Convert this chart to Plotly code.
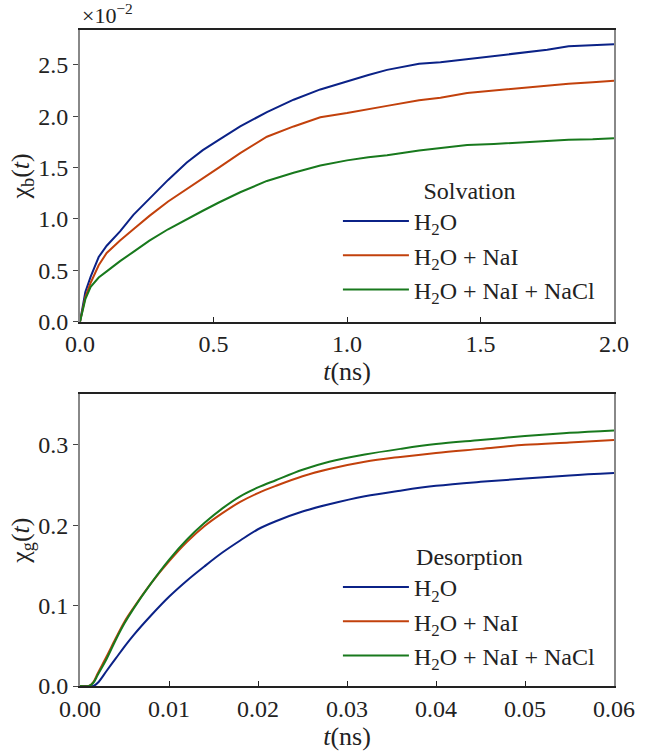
import plotly.graph_objects as go

# ---------------- data ----------------
series_names = ["H<sub>2</sub>O", "H<sub>2</sub>O + NaI", "H<sub>2</sub>O + NaI + NaCl"]
colors = ["#0b2287", "#c2410c", "#18791d"]

# Top panel: solvation, chi_b(t) in units of 1e-2
t_solv = [0, 0.02, 0.04, 0.07, 0.1, 0.15, 0.2, 0.26, 0.33, 0.4, 0.46, 0.52, 0.6, 0.7, 0.8, 0.9,
          1.0, 1.08, 1.15, 1.27, 1.35, 1.45, 1.55, 1.65, 1.75, 1.83, 1.92, 2.0]
solv_h2o = [0, 0.29, 0.44, 0.63, 0.74, 0.88, 1.04, 1.20, 1.38, 1.55, 1.67, 1.77, 1.90, 2.04, 2.16, 2.26,
            2.34, 2.40, 2.45, 2.51, 2.525, 2.555, 2.58, 2.615, 2.645, 2.68, 2.69, 2.70]
solv_nai = [0, 0.24, 0.38, 0.55, 0.67, 0.79, 0.90, 1.03, 1.17, 1.29, 1.39, 1.50, 1.64, 1.80, 1.90, 1.99,
            2.03, 2.07, 2.10, 2.155, 2.18, 2.225, 2.25, 2.275, 2.30, 2.315, 2.33, 2.345]
solv_nacl = [0, 0.22, 0.34, 0.43, 0.49, 0.59, 0.68, 0.79, 0.90, 1.00, 1.08, 1.16, 1.26, 1.37, 1.45, 1.52,
             1.57, 1.60, 1.62, 1.665, 1.69, 1.72, 1.73, 1.745, 1.755, 1.77, 1.775, 1.785]

# Bottom panel: desorption, chi_g(t)
t_des = [0, 0.001, 0.0015, 0.002, 0.003, 0.004, 0.005, 0.006, 0.008, 0.010, 0.012, 0.014, 0.016,
         0.018, 0.020, 0.022, 0.025, 0.028, 0.032, 0.036, 0.040, 0.045, 0.050, 0.055, 0.060]
des_h2o = [0, 0, 0, 0.004, 0.019, 0.034, 0.049, 0.063, 0.088, 0.111, 0.131, 0.149, 0.166,
           0.181, 0.195, 0.205, 0.217, 0.226, 0.236, 0.243, 0.249, 0.254, 0.258, 0.262, 0.265]
des_nai = [0, 0, 0.005, 0.016, 0.037, 0.059, 0.080, 0.097, 0.128, 0.155, 0.179, 0.199, 0.215,
           0.229, 0.240, 0.249, 0.261, 0.270, 0.279, 0.285, 0.290, 0.295, 0.300, 0.303, 0.306]
des_nacl = [0, 0, 0.004, 0.014, 0.034, 0.057, 0.078, 0.096, 0.128, 0.157, 0.182, 0.203, 0.221,
            0.236, 0.247, 0.256, 0.269, 0.279, 0.288, 0.295, 0.301, 0.306, 0.311, 0.315, 0.318]

top_xticks = [0.0, 0.5, 1.0, 1.5, 2.0]
top_yticks = [0.0, 0.5, 1.0, 1.5, 2.0, 2.5]
bot_xticks = [0.00, 0.01, 0.02, 0.03, 0.04, 0.05, 0.06]
bot_yticks = [0.0, 0.1, 0.2, 0.3]

# ---------------- figure ----------------
FONT = "Liberation Serif, Times New Roman, serif"
fig = go.Figure()

for name, ys, c in zip(series_names, [solv_h2o, solv_nai, solv_nacl], colors):
    fig.add_trace(go.Scatter(x=t_solv, y=ys, name=name, mode="lines",
                             line=dict(color=c, width=2), xaxis="x", yaxis="y", legend="legend"))
for name, ys, c in zip(series_names, [des_h2o, des_nai, des_nacl], colors):
    fig.add_trace(go.Scatter(x=t_des, y=ys, name=name, mode="lines",
                             line=dict(color=c, width=2, shape="spline"),
                             xaxis="x2", yaxis="y2", legend="legend2"))

axis_common = dict(showgrid=False, zeroline=False, showline=True, mirror=True,
                   tickfont=dict(family=FONT, size=24, color="#222"), ticklen=5, tickwidth=1.2)

xcommon = dict(axis_common, linecolor="#222", linewidth=1.5, ticks="inside", tickcolor="#222")
ycommon = dict(axis_common, linecolor="#888", linewidth=2, ticks="outside", tickcolor="#444")

TITLE_FONT = dict(family=FONT, size=26, color="#222")
LEG_FONT = dict(family=FONT, size=24, color="#222")

fig.update_layout(
    width=647, height=752,
    margin=dict(l=80, r=30, t=30, b=61),
    plot_bgcolor="white", paper_bgcolor="white",
    font=dict(family=FONT, size=22, color="#222"),
    xaxis=dict(xcommon, domain=[0, 1], anchor="y", range=[0, 2.0],
               tickvals=top_xticks, ticktext=[f"{v:.1f}" for v in top_xticks],
               title=dict(text="<i>t</i>(ns)", font=TITLE_FONT, standoff=2)),
    yaxis=dict(ycommon, domain=[0.5552, 1], anchor="x", range=[0, 2.838],
               tickvals=top_yticks, ticktext=[f"{v:.1f}" for v in top_yticks],
               title=dict(text="χ<sub>b</sub>(<i>t</i>)", font=TITLE_FONT, standoff=0)),
    xaxis2=dict(xcommon, domain=[0, 1], anchor="y2", range=[0, 0.06],
                tickvals=bot_xticks, ticktext=[f"{v:.2f}" for v in bot_xticks],
                title=dict(text="<i>t</i>(ns)", font=TITLE_FONT, standoff=0)),
    yaxis2=dict(ycommon, domain=[0, 0.4448], anchor="x2", range=[0, 0.363],
                tickvals=bot_yticks, ticktext=[f"{v:.1f}" for v in bot_yticks],
                title=dict(text="χ<sub>g</sub>(<i>t</i>)", font=TITLE_FONT, standoff=0)),
    legend=dict(x=0.483, y=0.79, xanchor="left", yanchor="top", bgcolor="rgba(0,0,0,0)",
                title=dict(text="Solvation", side="top center", font=LEG_FONT),
                font=LEG_FONT, itemwidth=66),
    legend2=dict(x=0.483, y=0.232, xanchor="left", yanchor="top", bgcolor="rgba(0,0,0,0)",
                 title=dict(text="Desorption", side="top center", font=LEG_FONT),
                 font=LEG_FONT, itemwidth=66),
    showlegend=True,
    annotations=[dict(text="×10<sup>−2</sup>", x=0, y=1, xref="paper", yref="paper",
                      xanchor="left", yanchor="bottom", yshift=0, showarrow=False,
                      font=dict(family=FONT, size=22, color="#222"))],
)

fig.write_html("out.html")
